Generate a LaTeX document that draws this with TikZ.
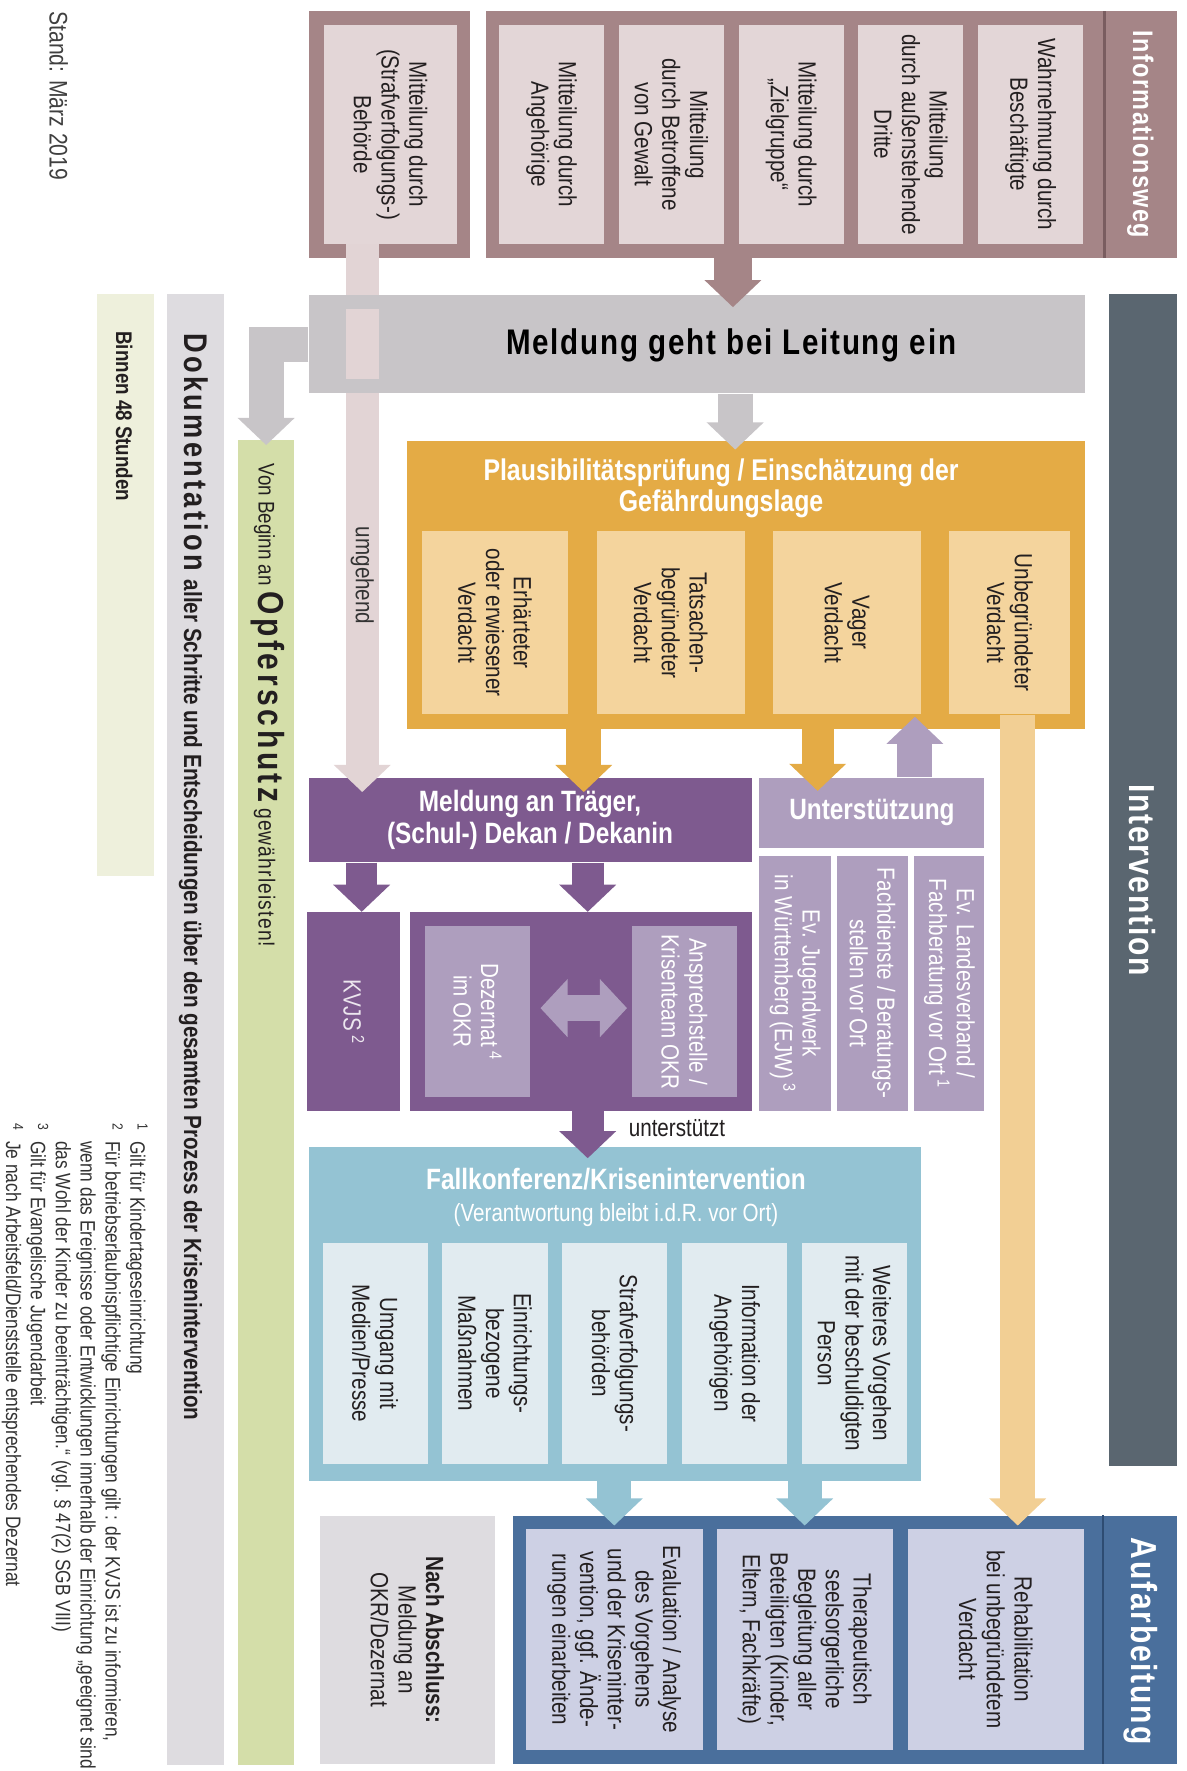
\documentclass[tikz,border=0pt]{standalone}
\usepackage{fontspec}
\setmainfont{Liberation Sans}[FakeStretch=0.83]
\newfontfamily\trackfont{Liberation Sans}[FakeStretch=0.83,LetterSpace=5]
\newfontfamily\widetrack{Liberation Sans}[FakeStretch=0.83,LetterSpace=10]
\usetikzlibrary{arrows.meta}

\definecolor{textdark}{HTML}{231F20}
\definecolor{infobrown}{HTML}{A58587}
\definecolor{infolight}{HTML}{E3D6D7}
\definecolor{infodark}{HTML}{7A5D60}
\definecolor{meldgray}{HTML}{C8C5C8}
\definecolor{pinkstrip}{HTML}{E2D4D5}
\definecolor{plausorange}{HTML}{E4AB45}
\definecolor{verdlight}{HTML}{F4D49D}
\definecolor{rehabstrip}{HTML}{F2CF94}
\definecolor{traegerpurple}{HTML}{7E5A8F}
\definecolor{hilfelila}{HTML}{AE9EBE}
\definecolor{fallblue}{HTML}{94C3D3}
\definecolor{falllight}{HTML}{E1EBF0}
\definecolor{aufblue}{HTML}{4A6F9C}
\definecolor{aufdark}{HTML}{2E4C72}
\definecolor{auflight}{HTML}{CDD0E4}
\definecolor{intervslate}{HTML}{5A6670}
\definecolor{opfergreen}{HTML}{D4DEA9}
\definecolor{binnencream}{HTML}{EEF0DC}
\definecolor{dokugray}{HTML}{DEDCE0}

\begin{document}
\begin{tikzpicture}[x=1pt,y=-1pt,
    every node/.style={inner sep=0pt,text=textdark,font=\fontsize{22}{24.5}\selectfont},
    hbox/.style 2 args={minimum width=#1,minimum height=#2},
    col/.style 2 args={rotate=-90,minimum width=#2,minimum height=#1,align=center},
    head/.style={text=white,align=center,font=\bfseries\fontsize{26}{28}\selectfont},
    side/.style={rotate=-90,text=white,font=\trackfont\bfseries\fontsize{#1}{#1}\selectfont},
    blk/.style={line width=30pt,-{Triangle[width=49pt,length=24pt]}}]
  \useasboundingbox (0,0) rectangle (1050,1567);
  \fill[white] (0,0) rectangle (1050,1567);

  % side bars
  \node[rotate=-90,anchor=west,text=black!75,font=\fontsize{22.5}{22.5}\selectfont] (stand) at (52,10) {Stand: März 2019};
  \node[fill=binnencream,hbox={50pt}{515pt}] (binnen) at (111,517.5) {};
  \node[rotate=-90,anchor=west,font=\bfseries\fontsize{20}{20}\selectfont] (binnentext) at (110,293) {Binnen 48 Stunden};
  \node[fill=dokugray,hbox={50pt}{1302pt}] (doku) at (173,911) {};
  \node[rotate=-90,anchor=west] (dokutext) at (171,295)
    {{\widetrack\bfseries\fontsize{29}{29}\selectfont Dokumentation}\hspace{8pt}{\bfseries\fontsize{22}{22}\selectfont aller Schritte und Entscheidungen über den gesamten Prozess der Krisenintervention}};
  \node[fill=opfergreen,hbox={49pt}{1173pt}] (opfer) at (235.5,975.5) {};
  \node[rotate=-90,anchor=west] (opfertext) at (237,410)
    {{\fontsize{20}{20}\selectfont Von Beginn an}\hspace{5pt}{\widetrack\bfseries\fontsize{32}{32}\selectfont Opferschutz}\hspace{5pt}{\trackfont\fontsize{20.5}{20.5}\selectfont gewährleisten!}};

  % Informationsweg
  \node[fill=infobrown,hbox={143pt}{218pt}] (frameA) at (344.5,119) {};
  \node[fill=infobrown,hbox={611pt}{218pt}] (frameB) at (735.5,119) {};
  \node[fill=infolight,col={117pt}{194pt}] (strafbeh) at (345.5,119) {Mitteilung durch\\(Strafverfolgungs-)\\Behörde};
  \node[fill=infolight,col={93pt}{194pt}] (angeh) at (488,119) {Mitteilung durch\\Angehörige};
  \node[fill=infolight,col={93pt}{194pt}] (betroff) at (594,119) {Mitteilung\\durch Betroffene\\von Gewalt};
  \node[fill=infolight,col={93pt}{194pt}] (zielgr) at (700,119) {Mitteilung durch\\„Zielgruppe“};
  \node[fill=infolight,col={93pt}{194pt}] (dritte) at (806,119) {Mitteilung\\durch außenstehende\\Dritte};
  \node[fill=infolight,col={93pt}{194pt}] (beschaeft) at (912,119) {Wahrnehmung durch\\Beschäftigte};
  \draw[infodark,line width=2pt] ([xshift=-64pt]frameB.north east) -- ([xshift=-64pt]frameB.south east);
  \node[side=25] (infoweg) at (1009,119) {Informationsweg};

  \node[side=32,fill=intervslate,minimum width=1037pt,minimum height=60pt] (interv) at (1011,778.5) {Intervention};

  % Plausibilitaet
  \node[fill=plausorange,hbox={600pt}{255pt}] (plaus) at (660,517.5) {};
  \node[head,font=\bfseries\fontsize{26.5}{28}\selectfont] (plaustext) at (638,432) {Plausibilitätsprüfung / Einschätzung der\\Gefährdungslage};
  \node[fill=verdlight,col={130pt}{162pt}] (verd1) at (438,551) {Erhärteter\\oder erwiesener\\Verdacht};
  \node[fill=verdlight,col={131pt}{162pt}] (verd2) at (593.5,551) {Tatsachen-\\begründeter\\Verdacht};
  \node[fill=verdlight,col={131pt}{162pt}] (verd3) at (749.5,551) {Vager\\Verdacht};
  \node[fill=verdlight,col={107pt}{162pt}] (verd4) at (893.5,551) {Unbegründeter\\Verdacht};

  % Traeger und Unterstuetzung
  \node[fill=traegerpurple,hbox={392pt}{75pt},head] (traeger) at (469,725.5) {Meldung an Träger,\\(Schul-) Dekan / Dekanin};
  \node[fill=hilfelila,hbox={199pt}{62pt},head] (hilfe) at (771.5,719) {Unterstützung};
  \node[fill=hilfelila,col={63pt}{226pt},text=white] (ejw) at (703.5,870) {Ev. Jugendwerk\\in Württemberg (EJW)\,\textsuperscript{3}};
  \node[fill=hilfelila,col={62pt}{226pt},text=white] (fachdienst) at (772,870) {Fachdienste / Beratungs-\\stellen vor Ort};
  \node[fill=hilfelila,col={62pt}{226pt},text=white] (landesverb) at (840,870) {Ev. Landesverband /\\Fachberatung vor Ort\,\textsuperscript{1}};
  \node[fill=traegerpurple,col={82pt}{176pt},text=white!85!traegerpurple] (kvjs) at (313,895) {KVJS\,\textsuperscript{2}};
  \node[fill=traegerpurple,hbox={302pt}{176pt}] (okr) at (514,895) {};
  \node[fill=hilfelila,col={93pt}{152pt},text=white] (dezernat) at (422.5,895) {Dezernat\,\textsuperscript{4}\\im OKR};
  \node[fill=hilfelila,col={93pt}{152pt},text=white] (ansprech) at (605.5,895) {Ansprechstelle /\\Krisenteam OKR};
  \node (unterstuetzt) at (599,998) {unterstützt};

  % Fallkonferenz
  \node[fill=fallblue,hbox={542pt}{295pt}] (fall) at (544,1162.5) {};
  \node[head] (falltext) at (545,1043) {Fallkonferenz/Krisenintervention};
  \node[text=white] (fallsub) at (545,1075) {(Verantwortung bleibt i.d.R. vor Ort)};
  \node[fill=falllight,col={93pt}{195pt}] (medien) at (332,1197.5) {Umgang mit\\Medien/Presse};
  \node[fill=falllight,col={93pt}{195pt}] (massn) at (438,1197.5) {Einrichtungs-\\bezogene\\Maßnahmen};
  \node[fill=falllight,col={93pt}{195pt}] (strafv) at (544,1197.5) {Strafverfolgungs-\\behörden};
  \node[fill=falllight,col={93pt}{195pt}] (angehinfo) at (650,1197.5) {Information der\\Angehörigen};
  \node[fill=falllight,col={93pt}{195pt}] (beschuld) at (756,1197.5) {Weiteres Vorgehen\\mit der beschuldigten\\Person};

  % Aufarbeitung
  \node[fill=dokugray,col={155pt}{220pt}] (abschluss) at (360.5,1451) {\textbf{Nach Abschluss:}\\Meldung an\\OKR/Dezernat};
  \node[fill=aufblue,hbox={587pt}{220pt}] (auf) at (747.5,1451) {};
  \draw[aufdark,line width=2pt] ([xshift=-65pt]auf.north east) -- ([xshift=-65pt]auf.south east);
  \node[side=32] (auftext) at (1009,1452) {Aufarbeitung};
  \node[fill=auflight,col={157pt}{195pt}] (eval) at (543.5,1450.5) {Evaluation / Analyse\\des Vorgehens\\und der Kriseninter-\\vention, ggf. Ände-\\rungen einarbeiten};
  \node[fill=auflight,col={156pt}{195pt}] (thera) at (712,1450.5) {Therapeutisch\\seelsorgerliche\\Begleitung aller\\Beteiligten (Kinder,\\Eltern, Fachkräfte)};
  \node[fill=auflight,col={156pt}{195pt}] (rehab) at (881,1450.5) {Rehabilitation\\bei unbegründetem\\Verdacht};

  % footnotes
  \node[rotate=-90,anchor=north west,text=black!80,font=\fontsize{18.5}{22}\selectfont] (fussnoten) at (131,994)
    {\begin{tabular}{@{}l@{\hspace{9pt}}l@{}}
      \textsuperscript{1} & Gilt für Kindertageseinrichtung\\
      \textsuperscript{2} & Für betriebserlaubnispflichtige Einrichtungen gilt : der KVJS ist zu informieren,\\
      & wenn das Ereignisse oder Entwicklungen innerhalb der Einrichtung „geeignet sind\\
      & das Wohl der Kinder zu beeinträchtigen.“ (vgl. § 47(2) SGB VIII)\\
      \textsuperscript{3} & Gilt für Evangelische Jugendarbeit\\
      \textsuperscript{4} & Je nach Arbeitsfeld/Dienststelle entsprechendes Dezernat
    \end{tabular}};

  % umgehend strip and Meldung bar
  \draw[pinkstrip,blk,line width=29pt] ([xshift=-25pt]strafbeh.east) -- ([xshift=-148.5pt,yshift=-13pt]traeger.north);
  \node[fill=meldgray,hbox={687pt}{87pt}] (leitung) at (616.5,304.5) {};
  \node[fill=pinkstrip,hbox={29pt}{62pt}] (umgpatch) at (320.5,304) {};
  \node[font=\trackfont\bfseries\fontsize{31.5}{31.5}\selectfont,text=black] (leittext) at (647,306) {Meldung geht bei Leitung ein};
  \node[rotate=-90,anchor=west,text=black!80] (umgehend) at (320.5,466) {umgehend};

  % arrows
  \draw[infobrown,blk,line width=33pt] ([xshift=-87pt]frameB.south) -- ([xshift=32pt,yshift=-11pt]leitung.north);
  \draw[meldgray,blk,line width=31pt] ([xshift=34pt]leitung.south) -- ([xshift=-9.5pt,yshift=-8pt]plaus.north);
  \draw[meldgray,blk,line width=31pt] (leitung.west) -| ([yshift=-5pt]opfer.north);
  \draw[plausorange,blk,line width=31pt] ([xshift=-143.5pt]plaus.south) -- ([xshift=47.5pt,yshift=-13pt]traeger.north);
  \draw[plausorange,blk,line width=28pt] ([xshift=63.5pt]plaus.south) -- ([xshift=-48pt,yshift=-12pt]hilfe.north);
  \draw[hilfelila,blk,line width=31pt] ([xshift=38pt]hilfe.north) -- ([xshift=149.5pt,yshift=11pt]plaus.south);
  \draw[rehabstrip,blk,line width=31pt] ([xshift=7pt]verd4.east) -- ([xshift=19.5pt,yshift=3pt]rehab.west);
  \draw[traegerpurple,blk,line width=27pt] ([xshift=-149pt]traeger.south) -- ([xshift=7pt]kvjs.west);
  \draw[traegerpurple,blk,line width=28pt] ([xshift=51pt]traeger.south) -- ([xshift=6pt]okr.north);
  \draw[traegerpurple,blk,line width=28pt] ([xshift=6pt]okr.south) -- ([xshift=-24pt,yshift=-10pt]fall.north);
  \draw[hilfelila,line width=23pt,{Triangle[width=50pt,length=24pt]}-{Triangle[width=50pt,length=24pt]}]
    ([xshift=9pt,yshift=3pt]dezernat.north) -- ([xshift=-4pt,yshift=3pt]ansprech.south);
  \draw[fallblue,blk] (fall.south -| eval.west) -- ([yshift=3pt]eval.west);
  \draw[fallblue,blk] (fall.south -| thera.west) -- ([yshift=3pt]thera.west);
\end{tikzpicture}
\end{document}
